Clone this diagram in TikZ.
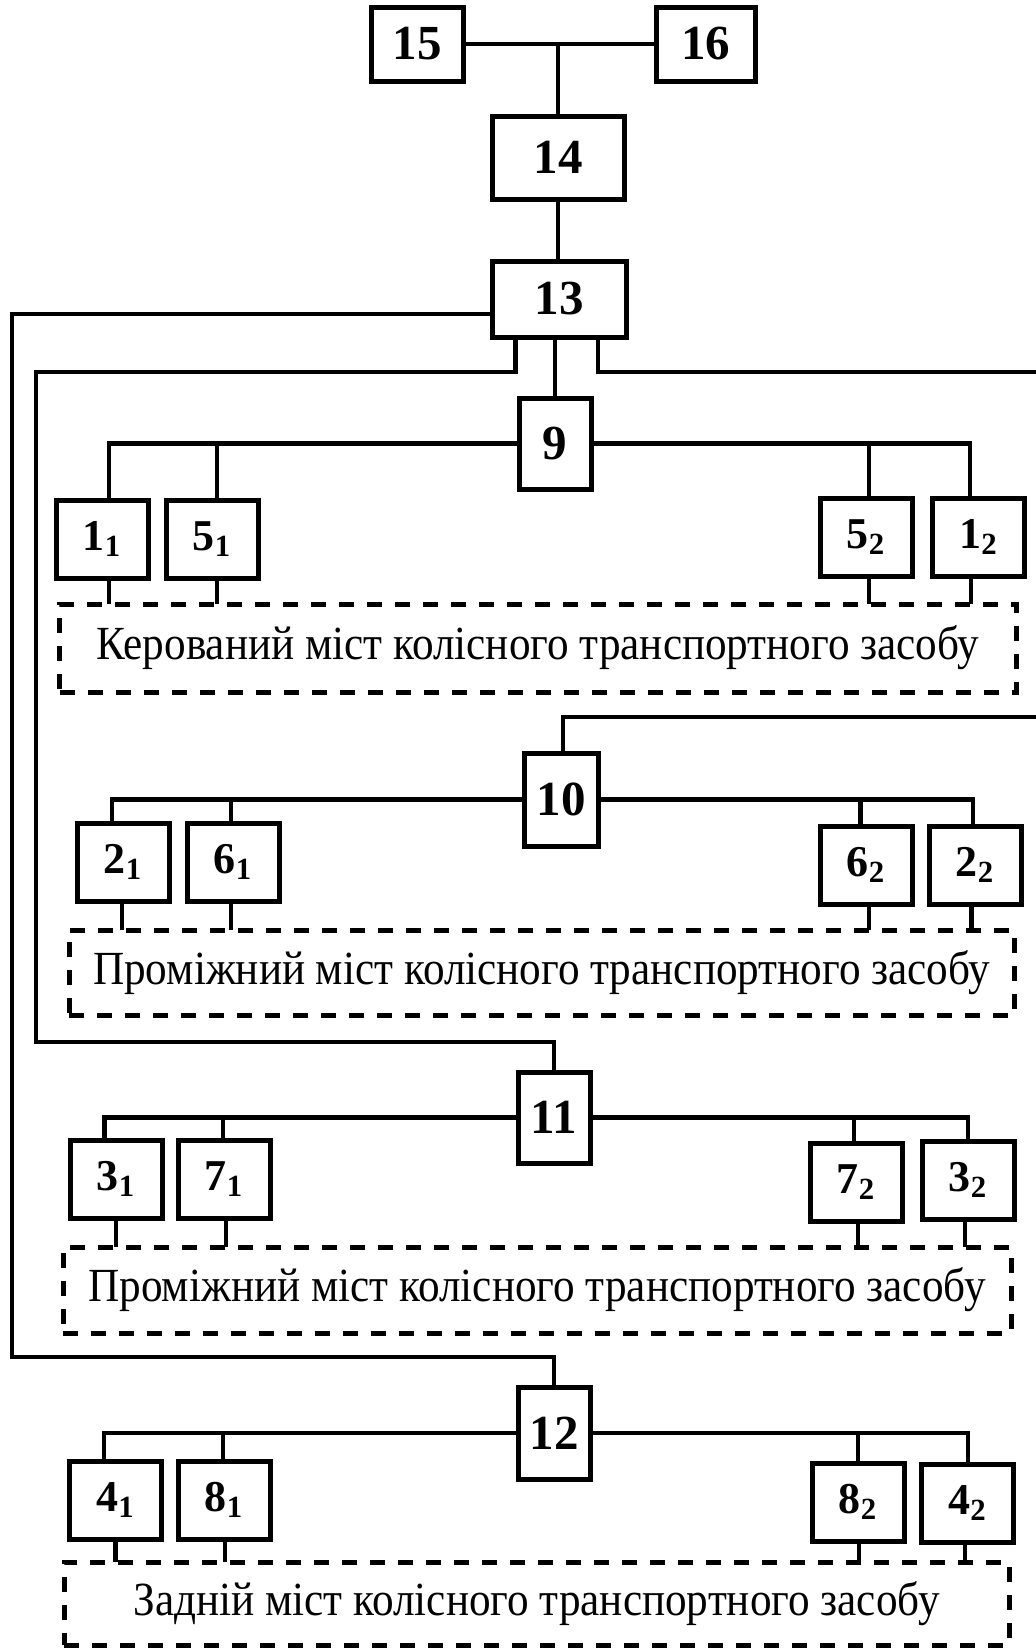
\documentclass[tikz,border=0pt]{standalone}
\usepackage{fontspec}
\setmainfont{Liberation Serif}
\usetikzlibrary{calc}

\tikzset{
  wire/.style={line width=2.3pt, line cap=rect},
  box/.style={draw, line width=2.5pt, inner sep=0pt, fill=white},
  hub/.style={box, font=\fontsize{24.5}{24.5}\selectfont\bfseries},
  unit/.style={box, minimum width=46pt, minimum height=39pt,
    font=\fontsize{22}{22}\selectfont\bfseries},
  axle/.style={draw, line width=2.5pt, dash pattern=on 7.5pt off 6.5pt,
    inner sep=0pt, font=\fontsize{21.6}{21.6}\selectfont}
}

% axle caption, set slightly taller than wide
\newcommand\axlecaption[1]{\scalebox{1}[1.1]{#1}}

% vertical drop from a unit down to the top edge of its axle frame
\newcommand\dropto[3]{%
  \path ($(#1.south)+(#2,0)$) coordinate (#1-d);
  \draw[wire] (#1-d) -- (#1-d |- #3.north);}
% vertical rise from a unit up to the bus of its hub
\newcommand\riseto[3]{%
  \path ($(#1.north)+(#2,0)$) coordinate (#1-u);
  \draw[wire] (#1-u) |- (#3);}

\begin{document}
\begin{tikzpicture}[x=0.5pt, y=-0.5pt]
\useasboundingbox (0,0) rectangle (1036,1651);

% --- control chain at the top
\node[hub, minimum width=46pt, minimum height=37pt] (h15) at (417,44) {15};
\node[hub, minimum width=49.5pt, minimum height=37pt] (h16) at (705.5,44) {16};
\node[hub, minimum width=66pt, minimum height=41.5pt] (h14) at (558,157.5) {14};
\node[hub, minimum width=67pt, minimum height=38pt] (h13) at (559,299) {13};

% --- axle hubs
\node[hub, minimum width=36pt, minimum height=45.5pt] (h9) at (555,443.5) {9};
\node[hub, minimum width=37pt, minimum height=46.5pt] (h10) at (561,799.5) {10};
\node[hub, minimum width=36pt, minimum height=45.5pt] (h11) at (554,1117.5) {11};
\node[hub, minimum width=36pt, minimum height=46pt] (h12) at (554,1433) {12};

% --- axle frames
\node[axle, minimum width=478.5pt, minimum height=44pt] (d1) at (538,648)
  {\axlecaption{Керований міст колісного транспортного засобу}};
\node[axle, minimum width=472.75pt, minimum height=42.5pt] (d2) at (541.75,972.5)
  {\axlecaption{Проміжний міст колісного транспортного засобу}};
\node[axle, minimum width=474pt, minimum height=43pt] (d3) at (537,1290)
  {\axlecaption{Проміжний міст колісного транспортного засобу}};
\node[axle, minimum width=472.5pt, minimum height=41.5pt] (d4) at (536.5,1603.5)
  {\axlecaption{Задній міст колісного транспортного засобу}};

% --- wheel units, first axle
\node[unit] (u1a) at (102,539) {1\textsubscript{1}};
\node[unit] (u5a) at (212,539) {5\textsubscript{1}};
\node[unit] (u5b) at (866,537) {5\textsubscript{2}};
\node[unit] (u1b) at (978.5,537) {1\textsubscript{2}};
% second axle
\node[unit] (u2a) at (123,862) {2\textsubscript{1}};
\node[unit] (u6a) at (233,862) {6\textsubscript{1}};
\node[unit] (u6b) at (866,865) {6\textsubscript{2}};
\node[unit] (u2b) at (975,865) {2\textsubscript{2}};
% third axle
\node[unit] (u3a) at (116,1179) {3\textsubscript{1}};
\node[unit] (u7a) at (224,1179) {7\textsubscript{1}};
\node[unit] (u7b) at (856,1182) {7\textsubscript{2}};
\node[unit] (u3b) at (968,1180) {3\textsubscript{2}};
% rear axle
\node[unit] (u4a) at (115.5,1500) {4\textsubscript{1}};
\node[unit] (u8a) at (224,1500) {8\textsubscript{1}};
\node[unit] (u8b) at (858,1502) {8\textsubscript{2}};
\node[unit] (u4b) at (967.5,1503) {4\textsubscript{2}};

% --- top links
\draw[wire] (h15.east) -- (h16.west);
\coordinate (j) at (h14.north |- h15.east);
\draw[wire] (j) -- (h14.north);
\draw[wire] (h14.south) -- (h14.south |- h13.north);
\draw[wire] (h9.north |- h13.south) -- (h9.north);

% --- feeders from 13 to the other hubs
\coordinate (cA) at (12,1357);
\coordinate (cB1) at (36,372);
\coordinate (cB2) at (36,1042);
\coordinate (cC1) at (1040,372);
\coordinate (cC2) at (1040,717);
\draw[wire] ($(h13.west)+(0,15)$) -| (cA) -| (h12.north);
\draw[wire] ($(h13.south)+(-43.5,0)$) |- (cB1) -- (cB2) -| (h11.north);
\draw[wire] ($(h13.south)+(39,0)$) |- (cC1) -- (cC2) -| ($(h10.north)+(2,0)$);

% --- buses to the wheel units
\riseto{u1a}{7}{h9.west}   \riseto{u5a}{5}{h9.west}
\riseto{u1b}{-8.5}{h9.east} \riseto{u5b}{3}{h9.east}
\riseto{u2a}{-11}{h10.west} \riseto{u6a}{-2}{h10.west}
\riseto{u2b}{-2}{h10.east}  \riseto{u6b}{-5.5}{h10.east}
\riseto{u3a}{-11.5}{h11.west} \riseto{u7a}{-1}{h11.west}
\riseto{u3b}{0}{h11.east}   \riseto{u7b}{-2}{h11.east}
\riseto{u4a}{-11.5}{h12.west} \riseto{u8a}{-1}{h12.west}
\riseto{u4b}{0.5}{h12.east} \riseto{u8b}{0}{h12.east}

% --- drops to the axle frames
\dropto{u1a}{7}{d1} \dropto{u5a}{5}{d1} \dropto{u5b}{3}{d1} \dropto{u1b}{-7.5}{d1}
\dropto{u2a}{-1}{d2} \dropto{u6a}{-2}{d2} \dropto{u6b}{3}{d2} \dropto{u2b}{-3.5}{d2}
\dropto{u3a}{0}{d3} \dropto{u7a}{2}{d3} \dropto{u7b}{2}{d3} \dropto{u3b}{-3}{d3}
\dropto{u4a}{0}{d4} \dropto{u8a}{1}{d4} \dropto{u8b}{1}{d4} \dropto{u4b}{-2.5}{d4}
\end{tikzpicture}
\end{document}
